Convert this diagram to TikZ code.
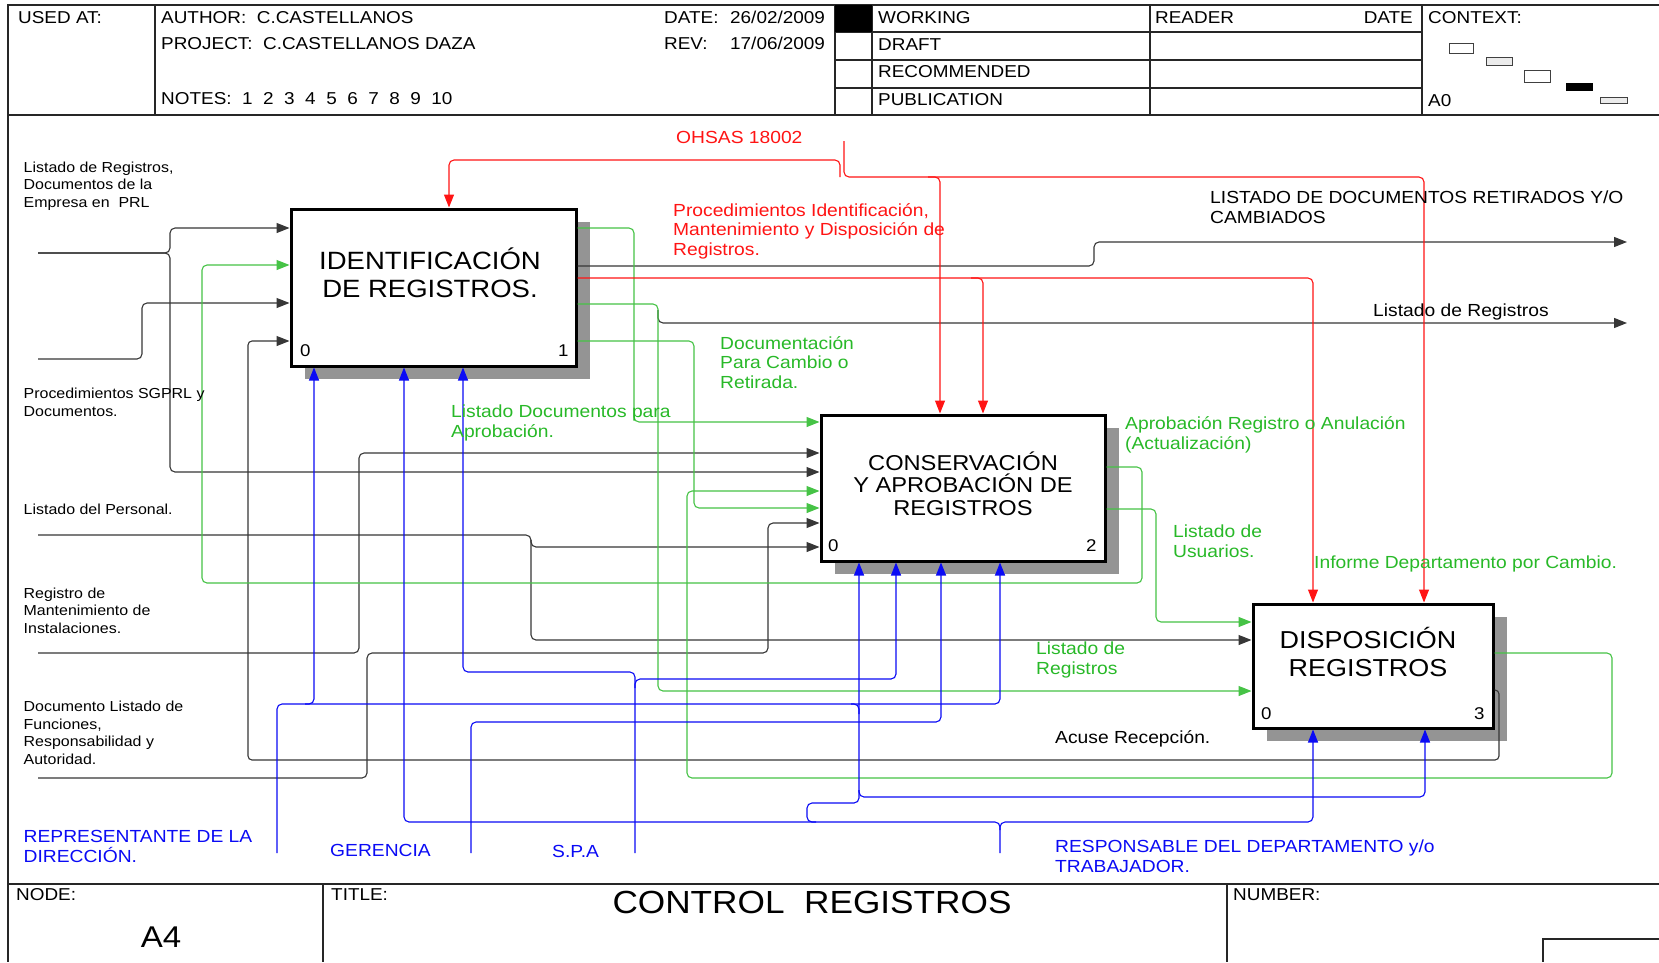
\documentclass[tikz,border=0pt]{standalone}
\usepackage{fontspec}
\setmainfont{Liberation Sans}[FakeStretch=1.1]
\usetikzlibrary{arrows.meta,shadows}
\definecolor{idred}{RGB}{255,20,20}
\definecolor{idgreen}{RGB}{70,195,70}
\definecolor{idgreentext}{RGB}{40,185,40}
\definecolor{idblue}{RGB}{10,10,245}
\definecolor{idline}{RGB}{55,55,55}
\begin{document}
\begin{tikzpicture}[x=1pt,y=-1pt,
  rule/.style={line width=1.3pt, black!85},
  thumb/.style={line width=0.9pt, draw=black!75},
  procbox/.style={draw, line width=3pt, fill=white, rectangle, inner sep=0pt,
    general shadow={fill=black!42, shadow xshift=14pt, shadow yshift=-13pt}},
  conn/.style={line width=1.1pt, rounded corners=5pt},
  headed/.style={-{Triangle[length=13pt,width=10pt]}},
  blk/.style={conn, idline},
  grn/.style={conn, idgreen},
  rd/.style={conn, idred},
  blu/.style={conn, idblue},
  lab/.style={anchor=base west, inner sep=0pt, align=left},
  hdrf/.style={font=\fontsize{17.2}{19}\selectfont},
  smallf/.style={font=\fontsize{14.5}{17.5}\selectfont},
  bigf/.style={font=\fontsize{17.5}{19.5}\selectfont},
  numf/.style={lab, font=\fontsize{17}{19}\selectfont},
  ttl/.style={anchor=base, inner sep=0pt, align=center}
]
\fill[white] (0,0) rectangle (1659,962);
\useasboundingbox (0,0) rectangle (1659,962);

% ---------- form frame: header ----------
\draw[rule] (1659,5) -- (8,5) -- (8,962);
\draw[rule] (8,115) -- (1659,115);
\draw[rule] (155,5) -- (155,115);
\draw[rule] (835,5) -- (835,115);
\draw[rule] (872,5) -- (872,115);
\draw[rule] (1150,5) -- (1150,115);
\draw[rule] (1422,5) -- (1422,115);
\foreach \yy in {32,60,88} \draw[rule] (835,\yy) -- (1422,\yy);
\fill (835,5) rectangle (872,32);

\node[lab,hdrf] (usedat) at (18,23) {USED AT:};
\node[lab,hdrf] (author) at (161,23) {AUTHOR:\ \ C.CASTELLANOS};
\node[lab,hdrf] (project) at (161,49) {PROJECT:\ \ C.CASTELLANOS DAZA};
\node[lab,hdrf] (notes) at (161,104) {NOTES:\ \ 1\ \ 2\ \ 3\ \ 4\ \ 5\ \ 6\ \ 7\ \ 8\ \ 9\ \ 10};
\node[lab,hdrf] (date) at (664,23) {\makebox[66pt][l]{DATE:}26/02/2009};
\node[lab,hdrf] (rev) at (664,49) {\makebox[66pt][l]{REV:}17/06/2009};
\node[lab,hdrf] (working) at (878,23) {WORKING};
\node[lab,hdrf] (draft) at (878,50) {DRAFT};
\node[lab,hdrf] (recom) at (878,77) {RECOMMENDED};
\node[lab,hdrf] (publ) at (878,105) {PUBLICATION};
\node[lab,hdrf] (reader) at (1155,23) {READER};
\node[hdrf,anchor=base east,inner sep=0pt] (rdate) at (1413,23) {DATE};
\node[lab,hdrf] (context) at (1428,23) {CONTEXT:};
\node[lab,hdrf] (azero) at (1428,106) {A0};

% context thumbnails
\draw[thumb] (1449,43) rectangle (1473,53);
\draw[thumb,fill=black!8] (1486,57) rectangle (1512,65);
\draw[thumb] (1524,70) rectangle (1550,82);
\fill (1566,83) rectangle (1593,91);
\draw[thumb,fill=black!8] (1600,97) rectangle (1627,103);

% ---------- form frame: footer ----------
\draw[rule] (8,884) -- (1659,884);
\draw[rule] (323,884) -- (323,962);
\draw[rule] (1227,884) -- (1227,962);
\draw[rule] (1659,939) -- (1543,939) -- (1543,962);
\node[lab,hdrf] (nodelbl) at (16,900) {NODE:};
\node[lab,hdrf] (titlelbl) at (331,900) {TITLE:};
\node[lab,hdrf] (numberlbl) at (1233,900) {NUMBER:};
\node[anchor=base,inner sep=0pt,font=\fontsize{30}{32}\selectfont] (nodeid) at (161,947) {A4};
\node[anchor=base,inner sep=0pt,font=\fontsize{32}{34}\selectfont] (title) at (812,913) {CONTROL\ \ REGISTROS};

% ---------- activity boxes ----------
\node[procbox, minimum width=285pt, minimum height=157pt] (b1) at (433.5,287.5) {};
\node[procbox, minimum width=284pt, minimum height=146pt] (b2) at (963,488) {};
\node[procbox, minimum width=240pt, minimum height=124pt] (b3) at (1373,666) {};

% multi-line nodes are anchored at the baseline of their last line
\node[ttl, font=\fontsize{25}{28}\selectfont] (t1) at (430,297) {IDENTIFICACIÓN\\DE REGISTROS.};
\node[ttl, font=\fontsize{21.5}{22.5}\selectfont] (t2) at (963,515) {CONSERVACIÓN\\Y APROBACIÓN DE\\REGISTROS};
\node[ttl, font=\fontsize{24.5}{28}\selectfont] (t3) at (1368,676) {DISPOSICIÓN\\REGISTROS};

\node[numf] (n10) at (300,356) {0};
\node[numf] (n11) at (558,356) {1};
\node[numf] (n20) at (828,551) {0};
\node[numf] (n22) at (1086,551) {2};
\node[numf] (n30) at (1261,719) {0};
\node[numf] (n33) at (1474,719) {3};

% ---------- free ends ----------
\coordinate (srcA) at (38,253);
\coordinate (srcB) at (38,359);
\coordinate (srcC) at (38,535);
\coordinate (srcD) at (38,653);
\coordinate (srcE) at (38,778);
\coordinate (ohsas) at (844,141);
\coordinate (out1) at (1627,242);
\coordinate (out2) at (1627,323);
\coordinate (srcRep) at (277,853);
\coordinate (srcGer) at (471,853);
\coordinate (srcSpa) at (635,853);
\coordinate (srcResp) at (1000,853);

% ---------- inputs (black) ----------
\draw[blk,headed] (srcA) -- (170,253) -- (170,228) -- (b1.west |- 0,228);
\draw[blk,headed] (srcA) -- (170,253) -- (170,472) -- (b2.west |- 0,472);
\draw[blk,headed] (srcB) -- (142,359) -- (142,303) -- (b1.west |- 0,303);
\draw[blk,headed] (srcC) -- (531,535) -- (531,547) -- (b2.west |- 0,547);
\draw[blk,headed] (531,540) -- (531,640) -- (b3.west |- 0,640);
\draw[blk,headed] (srcD) -- (359,653) -- (359,453) -- (b2.west |- 0,453);
\draw[blk,headed] (srcE) -- (367,778) -- (367,653) -- (768,653) -- (768,523) -- (b2.west |- 0,523);
\draw[blk,headed,rounded corners=4pt] (b3.east |- 0,690) -- (1499,690) -- (1499,760) -- (248,760) -- (248,341) -- (b1.west |- 0,341);

% ---------- outputs of box 1 ----------
\draw[blk,headed] (b1.east |- 0,266) -- (1094,266) -- (1094,242) -- (out1);
\draw[blk,headed] (658,310) -- (658,323) -- (out2);
\draw[grn,headed] (b1.east |- 0,228) -- (634,228) -- (634,422) -- (b2.west |- 0,422);
\draw[grn,headed] (b1.east |- 0,304) -- (658,304) -- (658,691) -- (b3.west |- 0,691);
\draw[grn,headed] (b1.east |- 0,341) -- (694,341) -- (694,508) -- (b2.west |- 0,508);
\draw[rd,headed] (b1.east |- 0,278) -- (1313,278) -- (b3.north -| 1313,0);
\draw[rd,headed] (971,278) -- (983,278) -- (b2.north -| 983,0);

% ---------- outputs of boxes 2 and 3 ----------
\draw[grn,headed] (b2.east |- 0,467) -- (1142,467) -- (1142,583) -- (202,583) -- (202,265) -- (b1.west |- 0,265);
\draw[grn,headed] (b2.east |- 0,509) -- (1156,509) -- (1156,622) -- (b3.west |- 0,622);
\draw[grn,headed] (b3.east |- 0,653) -- (1612,653) -- (1612,778) -- (687,778) -- (687,491) -- (b2.west |- 0,491);

% ---------- controls (red) ----------
\draw[rd,headed] (ohsas) -- (844,177) -- (1424,177) -- (b3.north -| 1424,0);
\draw[rd,headed] (840,177) -- (840,160) -- (449,160) -- (b1.north -| 449,0);
\draw[rd,headed] (928,177) -- (940,177) -- (b2.north -| 940,0);

% ---------- mechanisms (blue) ----------
\draw[blu,headed] (srcRep) -- (277,704) -- (1000,704) -- (b2.south -| 1000,0);
\draw[blu,headed] (305,704) -- (314,704) -- (b1.south -| 314,0);
\draw[blu] (851,704) -- (859,704) -- (859,714);
\draw[blu,headed] (srcGer) -- (471,722) -- (941,722) -- (b2.south -| 941,0);
\draw[blu,headed] (srcSpa) -- (635,679) -- (896,679) -- (b2.south -| 896,0);
\draw[blu,headed] (635,688) -- (635,672) -- (463,672) -- (b1.south -| 463,0);
\draw[blu,headed] (srcResp) -- (1000,822) -- (404,822) -- (b1.south -| 404,0);
\draw[blu,headed] (1000,830) -- (1000,822) -- (1313,822) -- (b3.south -| 1313,0);
\draw[blu,headed] (816,822) -- (807,822) -- (807,803) -- (859,803) -- (b2.south -| 859,0);
\draw[blu,headed] (859,790) -- (859,797) -- (1425,797) -- (b3.south -| 1425,0);

% ---------- arrow labels (anchored at the baseline of the last line) ----------
\node[lab,smallf] (inA) at (23.5,207) {Listado de Registros,\\Documentos de la\\Empresa en\ \ PRL};
\node[lab,smallf] (inB) at (23.5,416) {Procedimientos SGPRL y\\Documentos.};
\node[lab,smallf] (inC) at (23.5,514) {Listado del Personal.};
\node[lab,smallf] (inD) at (23.5,633) {Registro de\\Mantenimiento de\\Instalaciones.};
\node[lab,smallf] (inE) at (23.5,764) {Documento Listado de\\Funciones,\\Responsabilidad y\\Autoridad.};

\node[lab,bigf,text=idblue] (mR) at (23.5,862) {REPRESENTANTE DE LA\\DIRECCIÓN.};
\node[lab,bigf,text=idblue] (mG) at (330,856) {GERENCIA};
\node[lab,bigf,text=idblue] (mS) at (552,857) {S.P.A};
\node[lab,bigf,text=idblue] (mD) at (1055,872) {RESPONSABLE DEL DEPARTAMENTO y/o\\TRABAJADOR.};

\node[lab,bigf,text=idred] (cO) at (676,143) {OHSAS 18002};
\node[lab,bigf,text=idred] (cP) at (673,255) {Procedimientos Identificación,\\Mantenimiento y Disposición de\\Registros.};

\node[lab,bigf,text=idgreentext] (gA) at (451,437) {Listado Documentos para\\Aprobación.};
\node[lab,bigf,text=idgreentext] (gB) at (720,388) {Documentación\\Para Cambio o\\Retirada.};
\node[lab,bigf,text=idgreentext] (gC) at (1125,449) {Aprobación Registro o Anulación\\(Actualización)};
\node[lab,bigf,text=idgreentext] (gD) at (1173,557) {Listado de\\Usuarios.};
\node[lab,bigf,text=idgreentext] (gE) at (1314,568) {Informe Departamento por Cambio.};
\node[lab,bigf,text=idgreentext] (gF) at (1036,674) {Listado de\\Registros};

\node[lab,bigf] (oA) at (1210,223) {LISTADO DE DOCUMENTOS RETIRADOS Y/O\\CAMBIADOS};
\node[lab,bigf] (oB) at (1373,316) {Listado de Registros};
\node[lab,bigf] (oC) at (1055,743) {Acuse Recepción.};
\end{tikzpicture}
\end{document}
